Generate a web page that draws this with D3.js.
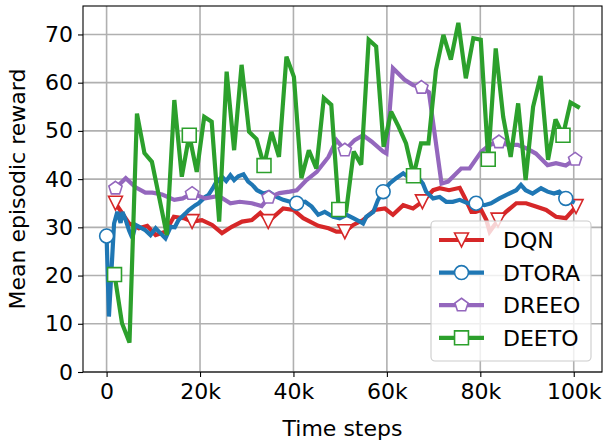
<!DOCTYPE html>
<html><head><meta charset="utf-8">
<script src="https://cdn.jsdelivr.net/npm/d3@7"></script>
<style>body{margin:0;background:#fff}svg{display:block}text{font-family:"DejaVu Sans",sans-serif}</style>
</head><body><svg id="c" width="604" height="444"></svg>
<script>
// ---- data (x in thousands of time steps, y = mean episodic reward) ----
const xTicks = [0, 20, 40, 60, 80, 100];
const xTickLabels = ["0", "20k", "40k", "60k", "80k", "100k"];
const yTicks = [0, 10, 20, 30, 40, 50, 60, 70];
const seriesNames = ["DQN", "DTORA", "DREEO", "DEETO"];
const seriesColors = ["#d62728", "#1f77b4", "#9467bd", "#2ca02c"];

const dqn = [[1.9,35.0],[4.8,30.8],[6.9,29.8],[8.7,30.3],[10.5,28.4],[12.6,29.1],[14.4,32.2],[16.5,31.9],[18.3,31.2],[20.4,31.5],[22.6,30.5],[24.7,28.8],[26.8,30.1],[29.0,31.2],[31.1,31.5],[32.9,33.0],[34.6,31.2],[37.8,33.9],[40.0,33.6],[42.1,31.9],[45.3,30.3],[47.5,29.8],[49.2,29.1],[51.0,29.1],[52.8,30.5],[54.9,31.5],[57.4,33.6],[59.6,33.9],[61.3,32.6],[63.5,34.6],[65.6,33.9],[67.6,35.3],[69.9,37.7],[71.3,38.1],[73.3,37.7],[75.6,38.2],[76.6,36.3],[78.1,33.2],[79.0,33.2],[80.2,33.6],[81.3,31.5],[82.0,29.1],[83.8,31.5],[85.5,33.2],[87.7,35.0],[89.8,35.0],[91.9,34.3],[94.1,33.6],[96.2,32.2],[98.3,31.9],[100.5,34.3]];
const dqnMarks = [1.9, 18.3, 34.6, 51.0, 67.6, 83.8, 100.5];

const dtora = [[0,28.2],[0.5,11.5],[1.6,30.8],[2.3,33.2],[3.0,30.9],[3.4,33.2],[4.1,31.5],[4.8,29.4],[5.5,27.8],[6.2,30.5],[7.0,30.1],[8.3,29.4],[9.4,28.4],[10.5,29.8],[11.5,28.8],[12.6,27.7],[13.7,30.1],[14.6,30.0],[15.4,31.5],[16.9,32.9],[17.6,33.6],[19.0,34.6],[19.7,35.0],[21.1,36.3],[21.8,36.7],[22.9,38.4],[23.3,39.1],[24.7,40.5],[25.6,39.6],[26.5,40.8],[27.3,39.8],[28.2,40.6],[29.3,41.0],[30.3,39.5],[31.2,38.8],[32.2,37.7],[33.6,37.0],[34.8,37.3],[36.4,36.3],[37.8,35.7],[39.3,35.3],[40.7,35.0],[42.5,35.3],[43.9,34.3],[45.3,32.6],[46.7,33.2],[48.5,32.2],[49.9,31.9],[51.4,32.6],[52.8,31.9],[54.2,31.2],[54.9,30.8],[55.6,32.2],[57.1,33.2],[58.1,35.7],[59.2,37.4],[60.6,39.1],[62.0,40.2],[63.5,41.2],[64.9,40.2],[66.3,40.8],[67.7,39.1],[68.4,37.4],[69.9,36.0],[71.3,36.3],[72.7,35.3],[74.1,35.3],[75.6,35.7],[77.3,35.0],[79.1,35.0],[80.9,34.6],[82.3,35.0],[84.1,36.0],[85.5,36.7],[87.7,37.7],[88.7,38.8],[89.7,37.7],[91.2,37.0],[93.0,38.1],[94.4,37.4],[95.8,37.0],[96.9,37.4],[98.3,36.0],[99.8,35.3]];
const dtoraMarks = [0, 40.7, 59.2, 79.1, 98.3];

const dreeo = [[1.9,38.1],[4.1,40.2],[6.2,38.3],[8.3,37.2],[9.8,37.2],[11.9,36.8],[14.5,35.7],[16.3,36.0],[18.3,37.0],[21.1,36.0],[24.0,36.5],[26.5,35.0],[28.5,35.3],[31.1,35.0],[33.2,34.4],[34.7,36.2],[37.0,37.1],[39.2,37.4],[40.7,37.7],[42.8,39.8],[45.0,41.5],[47.5,44.6],[49.2,48.1],[51.0,46.0],[53.1,48.1],[54.9,49.1],[56.7,47.8],[59.2,45.7],[59.9,45.3],[61.3,63.0],[63.8,60.6],[65.6,59.5],[67.4,59.0],[69.0,58.0],[71.7,39.1],[73.1,39.5],[75.9,42.2],[77.7,42.2],[80.2,45.7],[82.0,47.1],[84.0,47.7],[85.9,47.1],[88.0,47.1],[89.8,46.4],[91.9,45.3],[94.4,42.9],[96.2,43.3],[98.3,42.8],[100.3,44.1]];
const dreeoMarks = [1.9, 18.3, 34.7, 51.0, 67.4, 84.0, 100.3];

const deeto = [[1.7,20.2],[3.3,10.1],[4.9,6.1],[6.5,53.6],[8.1,45.4],[9.7,43.6],[11.3,36.0],[12.9,28.4],[14.5,56.4],[16.1,40.5],[17.7,49.1],[19.3,41.5],[20.9,52.9],[22.5,51.9],[24.1,31.2],[25.7,62.3],[27.3,46.0],[28.9,63.7],[30.5,49.8],[32.1,48.3],[33.7,42.8],[35.3,49.8],[36.9,44.6],[38.5,65.4],[40.1,61.2],[41.7,40.2],[43.3,46.0],[44.9,42.2],[46.5,56.8],[48.1,55.4],[49.7,33.7],[51.3,33.5],[52.9,45.7],[54.5,43.0],[56.1,68.9],[57.7,67.5],[59.3,46.7],[60.9,54.0],[62.5,50.9],[64.1,47.4],[65.7,40.7],[67.3,47.4],[68.9,47.4],[70.5,62.6],[72.1,69.9],[73.7,64.8],[75.3,72.4],[76.9,60.9],[78.5,69.2],[80.1,68.9],[81.7,44.1],[83.3,67.1],[84.9,52.9],[86.5,44.6],[88.1,55.7],[89.7,39.8],[91.3,55.0],[92.9,61.4],[94.5,44.0],[96.1,52.4],[97.7,49.1],[99.3,55.9],[100.9,55.0]];
const deetoMarks = [1.7, 17.7, 33.7, 49.7, 65.7, 81.7, 97.7];

const seriesData = [dqn, dtora, dreeo, deeto];
const seriesMarks = [dqnMarks, dtoraMarks, dreeoMarks, deetoMarks];
const markerTypes = ["tri", "circle", "penta", "square"];

// ---- layout ----
const L = 83, R = 602, T = 6, B = 372;
const x = d3.scaleLinear().domain([-5.05, 106.05]).range([L, R]);
const y = d3.scaleLinear().domain([0, 75.9]).range([B, T]);
const svg = d3.select("#c");
const FS = 22;

svg.append("defs").append("clipPath").attr("id", "clip")
  .append("rect").attr("x", L).attr("y", T).attr("width", R - L).attr("height", B - T);

// grid
const grid = svg.append("g").attr("stroke", "#b0b0b0").attr("stroke-width", 1.6);
grid.selectAll("line.v").data(xTicks).join("line")
  .attr("x1", d => x(d)).attr("x2", d => x(d)).attr("y1", T).attr("y2", B);
grid.selectAll("line.h").data(yTicks).join("line")
  .attr("y1", d => y(d)).attr("y2", d => y(d)).attr("x1", L).attr("x2", R);

// axes
const xAxis = d3.axisBottom(x).tickValues(xTicks).tickFormat((d, i) => xTickLabels[i]).tickSize(5).tickPadding(6);
const yAxis = d3.axisLeft(y).tickValues(yTicks).tickSize(5).tickPadding(5);
const gx = svg.append("g").attr("transform", `translate(0,${B})`).call(xAxis);
const gy = svg.append("g").attr("transform", `translate(${L},0)`).call(yAxis);
[gx, gy].forEach(g => {
  g.select(".domain").remove();
  g.selectAll(".tick line").attr("stroke", "#000").attr("stroke-width", 1.1);
  g.selectAll(".tick text").attr("font-size", FS).attr("fill", "#000").attr("font-family", "DejaVu Sans");
});

// marker shapes
const MS = 13.9;
function markerPath(type) {
  const h = MS / 2;
  if (type === "circle") return d3.symbol(d3.symbolCircle, Math.PI * h * h)();
  if (type === "square") return `M${-h},${-h}H${h}V${h}H${-h}Z`;
  if (type === "tri") return `M0,${h}L${-h},${-h}L${h},${-h}Z`;
  if (type === "penta") {
    const pts = d3.range(5).map(k => {
      const a = -Math.PI / 2 + k * 2 * Math.PI / 5;
      return [h * Math.cos(a), h * Math.sin(a)];
    });
    return "M" + pts.map(p => p.join(",")).join("L") + "Z";
  }
}

// lines
const line = d3.line().x(d => x(d[0])).y(d => y(d[1]));
const plot = svg.append("g").attr("clip-path", "url(#clip)");
seriesData.forEach((data, i) => {
  const g = plot.append("g");
  g.append("path").datum(data).attr("d", line)
    .attr("fill", "none").attr("stroke", seriesColors[i]).attr("stroke-width", 4.2)
    .attr("stroke-linejoin", "miter").attr("stroke-miterlimit", 3).attr("stroke-linecap", "square");
  const marks = data.filter(d => seriesMarks[i].includes(d[0]));
  g.selectAll("path.m").data(marks).join("path").attr("class", "m")
    .attr("d", markerPath(markerTypes[i]))
    .attr("transform", d => `translate(${x(d[0])},${y(d[1])})`)
    .attr("fill", "#fff").attr("stroke", seriesColors[i]).attr("stroke-width", 1.6);
});

// frame
svg.append("rect").attr("x", L).attr("y", T).attr("width", R - L).attr("height", B - T)
  .attr("fill", "none").attr("stroke", "#000").attr("stroke-width", 1.1);

// axis labels
svg.append("text").attr("x", (L + R) / 2).attr("y", 436).attr("text-anchor", "middle")
  .attr("font-size", FS).text("Time steps");
svg.append("text").attr("transform", `translate(25,${(T + B) / 2}) rotate(-90)`)
  .attr("text-anchor", "middle").attr("font-size", FS).text("Mean episodic reward");

// legend
const lg = svg.append("g");
lg.append("rect").attr("x", 431).attr("y", 221).attr("width", 160).attr("height", 140).attr("rx", 4)
  .attr("fill", "#fff").attr("fill-opacity", 0.8).attr("stroke", "#cccccc").attr("stroke-width", 1.1);
seriesNames.forEach((name, i) => {
  const cy = 240 + i * 32.6;
  lg.append("line").attr("x1", 439).attr("x2", 484).attr("y1", cy).attr("y2", cy)
    .attr("stroke", seriesColors[i]).attr("stroke-width", 4.2);
  lg.append("path").attr("d", markerPath(markerTypes[i])).attr("transform", `translate(461.5,${cy})`)
    .attr("fill", "#fff").attr("stroke", seriesColors[i]).attr("stroke-width", 1.6);
  lg.append("text").attr("x", 503).attr("y", cy + 8).attr("font-size", FS).text(name);
});
</script></body></html>
